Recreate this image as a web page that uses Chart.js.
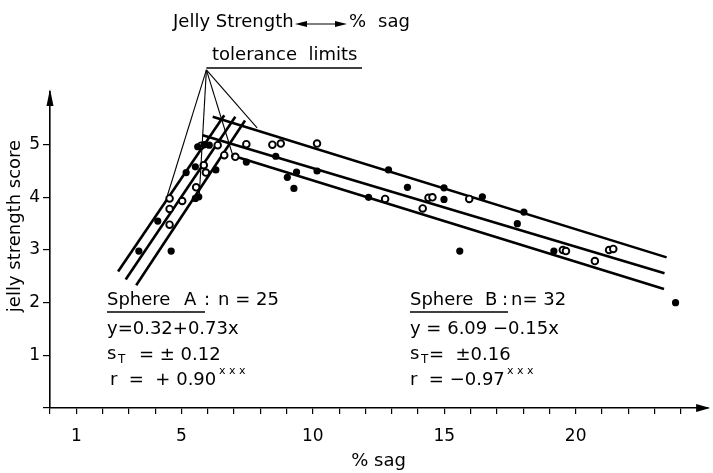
<!DOCTYPE html>
<html><head><meta charset="utf-8">
<script src="https://cdn.jsdelivr.net/npm/chart.js@4.4.1/dist/chart.umd.min.js"></script>
<style>html,body{margin:0;padding:0;background:#fff;}#wrap{width:713px;height:473px;position:relative;}</style>
</head><body><div id="wrap"><canvas id="c"></canvas></div>
<script>
// ---- tick labels ----
const xTickLabels = [1, 5, 10, 15, 20];
const yTickLabels = [1, 2, 3, 4, 5];

// ---- Sphere A (rising branch) ----
const sphereAFilledX = [3.38, 4.61, 4.10, 5.53, 5.66, 5.18, 5.53, 6.31, 5.62, 5.87, 6.06];
const sphereAFilledY = [2.98, 2.98, 3.55, 3.98, 4.01, 4.47, 4.58, 4.52, 4.96, 5.00, 4.99];
const sphereAOpenX   = [4.55, 4.55, 4.55, 5.03, 5.56, 5.93, 5.85, 5.75, 6.38, 6.63];
const sphereAOpenY   = [3.48, 3.78, 3.98, 3.93, 4.19, 4.47, 4.61, 4.98, 4.99, 4.80];

// ---- Sphere B (falling branch) ----
const sphereBFilledX = [7.47, 8.59, 9.03, 9.28, 9.38, 10.16, 12.88, 12.12, 13.60, 14.99, 14.99, 15.59, 16.45, 18.03, 17.78, 19.17, 23.80];
const sphereBFilledY = [4.67, 4.78, 4.38, 4.17, 4.48, 4.50, 4.52, 4.00, 4.19, 3.96, 4.18, 2.98, 4.01, 3.72, 3.50, 2.98, 2.00];
const sphereBOpenX   = [7.05, 7.47, 8.46, 8.78, 10.16, 12.75, 14.18, 14.40, 14.55, 15.95, 19.51, 19.63, 20.73, 21.27, 21.43];
const sphereBOpenY   = [4.77, 5.01, 5.00, 5.02, 5.02, 3.97, 3.79, 3.99, 4.00, 3.97, 3.00, 2.98, 2.79, 3.00, 3.02];

// ---- regression line and tolerance limits (end points) ----
const lineAUpper = [[2.59, 2.59], [6.63, 5.56]];
const lineAMid   = [[2.88, 2.44], [7.05, 5.53]];
const lineALower = [[3.28, 2.33], [7.42, 5.46]];
const lineBUpper = [[6.19, 5.53], [23.46, 2.86]];
const lineBMid   = [[5.81, 5.18], [23.38, 2.56]];
const lineBLower = [[6.90, 4.80], [23.36, 2.26]];

// ---- "tolerance limits" pointer lines ----
const toleranceApex = [5.95, 6.42];
const toleranceTargets = [[4.47, 4.04], [5.68, 4.04], [6.97, 4.77], [7.88, 5.32]];

const FONT = "'DejaVu Sans', sans-serif";
const mk = (xs, ys) => xs.map((x, i) => ({x: x, y: ys[i]}));
const pairs = arr => arr.map(p => ({x: p[0], y: p[1]}));
const lineDs = pts => ({data: pairs(pts), showLine: true, borderColor: '#000', borderWidth: 2.6,
  pointRadius: 0, pointHoverRadius: 0, order: 2, clip: false});
const filledDs = (xs, ys) => ({data: mk(xs, ys), showLine: false, pointRadius: 3.6, pointBorderWidth: 0,
  backgroundColor: '#000', borderColor: '#000', order: 0, clip: false});
const openDs = (xs, ys) => ({data: mk(xs, ys), showLine: false, pointRadius: 3.3, pointBorderWidth: 1.9,
  backgroundColor: '#fff', borderColor: '#000', order: 0, clip: false});

const deco = {
  id: 'deco',
  afterDraw(chart) {
    const ctx = chart.ctx, xs = chart.scales.x, ys = chart.scales.y, a = chart.chartArea;
    const px = v => xs.getPixelForValue(v), py = v => ys.getPixelForValue(v);
    ctx.save();
    ctx.fillStyle = '#000'; ctx.strokeStyle = '#000';
    // axis arrows
    ctx.beginPath(); ctx.moveTo(a.right + 3, a.bottom); ctx.lineTo(a.right - 11, a.bottom - 4);
    ctx.lineTo(a.right - 11, a.bottom + 4); ctx.closePath(); ctx.fill();
    ctx.beginPath(); ctx.moveTo(a.left, a.top - 3); ctx.lineTo(a.left - 3.5, a.top + 14);
    ctx.lineTo(a.left + 3.5, a.top + 14); ctx.closePath(); ctx.fill();

    // tolerance pointer lines
    const ax = px(toleranceApex[0]), ay = py(toleranceApex[1]);
    ctx.lineWidth = 1.1;
    toleranceTargets.forEach(t => {
      ctx.beginPath(); ctx.moveTo(ax, ay); ctx.lineTo(px(t[0]), py(t[1])); ctx.stroke();
    });
    ctx.lineWidth = 1.5;
    ctx.beginPath(); ctx.moveTo(ax, ay - 2); ctx.lineTo(362, ay - 2); ctx.stroke();

    ctx.textBaseline = 'middle'; ctx.textAlign = 'left';
    const big = '18px ' + FONT, small = '12px ' + FONT, tiny = '11px ' + FONT;
    const t = (s, x, y, f) => { ctx.font = f || big; ctx.fillText(s, x, y); };

    // header
    t('Jelly Strength', 173, 22);
    ctx.lineWidth = 1.2;
    ctx.beginPath(); ctx.moveTo(300, 24); ctx.lineTo(340, 24); ctx.stroke();
    ctx.beginPath(); ctx.moveTo(295, 24); ctx.lineTo(307, 21); ctx.lineTo(307, 27); ctx.closePath(); ctx.fill();
    ctx.beginPath(); ctx.moveTo(347, 24); ctx.lineTo(335, 21); ctx.lineTo(335, 27); ctx.closePath(); ctx.fill();
    t('%', 349, 22); t('sag', 378, 22);
    t('tolerance  limits', 212, 55);

    // y axis title
    ctx.save(); ctx.translate(15, 226); ctx.rotate(-Math.PI / 2);
    ctx.textAlign = 'center'; ctx.font = big; ctx.fillText('jelly strength score', 0, 0);
    ctx.restore();

    // Sphere A block
    t('Sphere', 107, 300); t('A', 184, 300); t(':', 204, 300); t('n = 25', 218, 300);
    ctx.lineWidth = 1.3;
    ctx.beginPath(); ctx.moveTo(107, 312); ctx.lineTo(205, 312); ctx.stroke();
    t('y=0.32+0.73x', 107, 329);
    t('s', 107, 354); t('T', 118, 360, small); t('= ± 0.12', 139, 355);
    t('r  =  + 0.90', 110, 380); t('x x x', 219, 371, tiny);

    // Sphere B block
    t('Sphere', 410, 300); t('B', 485, 300); t(':', 502, 300); t('n= 32', 511, 300);
    ctx.beginPath(); ctx.moveTo(410, 312); ctx.lineTo(508, 312); ctx.stroke();
    t('y = 6.09 \u22120.15x', 410, 329);
    t('s', 410, 354); t('T', 421, 360, small); t('=  ±0.16', 429, 355);
    t('r  = \u22120.97', 410, 380); t('x x x', 507, 371, tiny);
    ctx.restore();
  }
};

new Chart(document.getElementById('c'), {
  type: 'scatter',
  data: {
    datasets: [
      filledDs(sphereAFilledX, sphereAFilledY),
      openDs(sphereAOpenX, sphereAOpenY),
      filledDs(sphereBFilledX, sphereBFilledY),
      openDs(sphereBOpenX, sphereBOpenY),
      lineDs(lineAUpper), lineDs(lineAMid), lineDs(lineALower),
      lineDs(lineBUpper), lineDs(lineBMid), lineDs(lineBLower)
    ]
  },
  options: {
    responsive: true, maintainAspectRatio: false, animation: false, devicePixelRatio: 1,
    layout: {padding: {top: 92, right: 3, left: 0, bottom: 0}},
    plugins: {legend: {display: false}, tooltip: {enabled: false}, title: {display: false}},
    scales: {
      x: {
        type: 'linear', min: 0, max: 25,
        afterFit: s => { s.height = 65; s.paddingLeft = 0; s.paddingRight = 0; },
        afterBuildTicks: s => { s.ticks = Array.from({length: 26}, (_, i) => ({value: i})); },
        border: {display: true, color: '#000', width: 1.6},
        grid: {drawOnChartArea: false, drawTicks: true, tickLength: 6, lineWidth: 1.2,
               tickColor: c => (c.tick && c.tick.value === 25) ? 'rgba(0,0,0,0)' : '#000'},
        ticks: {autoSkip: false, maxRotation: 0, padding: 12, color: '#000',
                font: {family: FONT, size: 17},
                callback: v => xTickLabels.includes(v) ? String(v) : ''},
        title: {display: true, text: '% sag', color: '#000', font: {family: FONT, size: 18},
                padding: {top: 0, bottom: 1}}
      },
      y: {
        type: 'linear', min: 0, max: 6,
        afterFit: s => { s.width = 50; s.paddingTop = 0; s.paddingBottom = 0; },
        afterBuildTicks: s => { s.ticks = Array.from({length: 7}, (_, i) => ({value: i})); },
        border: {display: true, color: '#000', width: 1.6},
        grid: {drawOnChartArea: false, drawTicks: true, tickLength: 7, lineWidth: 1.2,
               tickColor: c => (c.tick && c.tick.value === 6) ? 'rgba(0,0,0,0)' : '#000'},
        ticks: {autoSkip: false, padding: 3, color: '#000', font: {family: FONT, size: 17},
                callback: v => yTickLabels.includes(v) ? String(v) : ''}
      }
    }
  },
  plugins: [deco]
});
</script></body></html>
